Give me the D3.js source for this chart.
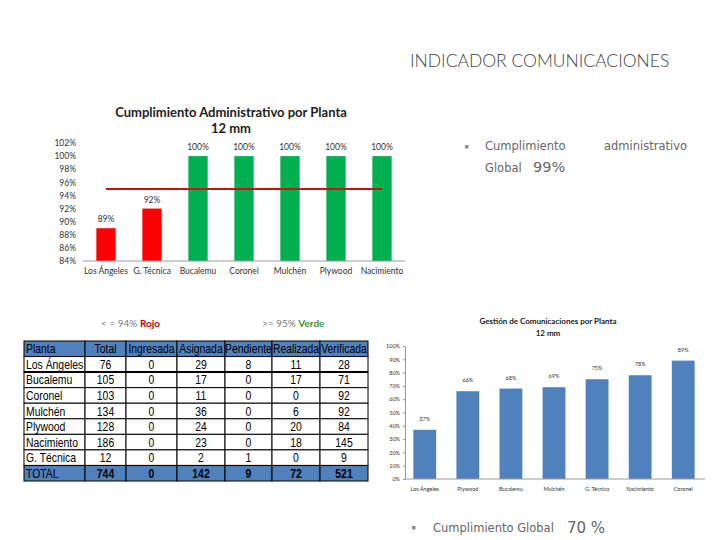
<!DOCTYPE html>
<html>
<head>
<meta charset="utf-8">
<script src="https://cdn.jsdelivr.net/npm/d3@7"></script>
<style>
  body { margin: 0; background: #fff; }
  svg { display: block; }
</style>
</head>
<body>
<div class="canva"></div>
<script>
// --- datos ---
const admPlantas = ["Los Ángeles", "G. Técnica", "Bucalemu", "Coronel", "Mulchén", "Plywood", "Nacimiento"];
const admValores = [89, 92, 100, 100, 100, 100, 100];
const admMeta = 95;
const admTicks = [84, 86, 88, 90, 92, 94, 96, 98, 100, 102];

const comPlantas = ["Los Ángeles", "Plywood", "Bucalemu", "Mulchén", "G. Técnica", "Nacimiento", "Coronel"];
const comValores = [37, 66, 68, 69, 75, 78, 89];
const comTicks = [0, 10, 20, 30, 40, 50, 60, 70, 80, 90, 100];

const tablaColumnas = ["Planta", "Total", "Ingresada", "Asignada", "Pendiente", "Realizada", "Verificada"];
const tablaPlantas = ["Los Ángeles", "Bucalemu", "Coronel", "Mulchén", "Plywood", "Nacimiento", "G. Técnica"];
const total = [76, 105, 103, 134, 128, 186, 12];
const ingresada = [0, 0, 0, 0, 0, 0, 0];
const asignada = [29, 17, 11, 36, 24, 23, 2];
const pendiente = [8, 0, 0, 0, 0, 0, 1];
const realizada = [11, 17, 0, 6, 20, 18, 0];
const verificada = [28, 71, 92, 92, 84, 145, 9];
const totales = ["TOTAL", 744, 0, 142, 9, 72, 521];

const cumplimientoAdm = "99%";
const cumplimientoGlobal = "70 %";

const W = 720, H = 540;
const svg = d3.select(".canva").append("svg")
  .attr("width", W).attr("height", H);

const font = "Lato, 'Open Sans', sans-serif";

// --- encabezado ---
svg.append("text")
  .attr("x", 410).attr("y", 67)
  .attr("font-family", "Lato, sans-serif")
  .attr("font-size", 17.5).attr("font-weight", 300)
  .attr("fill", "#444")
  .text("INDICADOR  COMUNICACIONES");

function bullet(x, y) {
  svg.append("rect").attr("x", x).attr("y", y - 5).attr("width", 3.5).attr("height", 3.5).attr("fill", "#8c8c8c");
}
bullet(465, 150);
const t1 = svg.append("text").attr("font-family", "'DejaVu Sans', sans-serif").attr("fill", "#666").attr("font-size", 11.5);
t1.append("tspan").attr("x", 485).attr("y", 150).text("Cumplimiento");
t1.append("tspan").attr("x", 604).attr("y", 150).text("administrativo");
t1.append("tspan").attr("x", 485).attr("y", 172).text("Global");
t1.append("tspan").attr("x", 533).attr("y", 172).attr("font-size", 14.5).text(cumplimientoAdm);

bullet(412, 531);
const t2 = svg.append("text").attr("font-family", "'DejaVu Sans', sans-serif").attr("fill", "#666").attr("font-size", 11.5);
t2.append("tspan").attr("x", 433).attr("y", 532).text("Cumplimiento Global");
t2.append("tspan").attr("x", 567).attr("y", 533).attr("font-size", 15).text(cumplimientoGlobal);

// --- grafico cumplimiento administrativo ---
const x1 = d3.scaleBand().domain(admPlantas).range([83, 405]).paddingInner(0.58).paddingOuter(0.29);
const y1 = d3.scaleLinear().domain([84, 102]).range([261, 143]);

const g1 = svg.append("g");
g1.append("text").attr("x", 231).attr("y", 117).attr("text-anchor", "middle")
  .attr("font-family", font).attr("font-weight", "bold").attr("font-size", 13).attr("fill", "#222")
  .text("Cumplimiento Administrativo por Planta");
g1.append("text").attr("x", 231).attr("y", 133).attr("text-anchor", "middle")
  .attr("font-family", font).attr("font-weight", "bold").attr("font-size", 13).attr("fill", "#222")
  .text("12 mm");

const yAxis1 = g1.append("g").attr("transform", "translate(79,0)")
  .call(d3.axisLeft(y1).tickValues(admTicks).tickSize(0).tickFormat(d => d + "%"));
yAxis1.select(".domain").remove();
yAxis1.selectAll("text").attr("font-family", font).attr("font-size", 8.5).attr("fill", "#333");

g1.selectAll("rect.bar").data(admValores).enter().append("rect")
  .attr("class", "bar")
  .attr("x", (d, i) => x1(admPlantas[i]))
  .attr("y", d => y1(d))
  .attr("width", x1.bandwidth())
  .attr("height", d => 261 - y1(d))
  .attr("fill", d => d >= admMeta ? "#00b050" : "#ff0000");

g1.selectAll("text.lbl").data(admValores).enter().append("text")
  .attr("class", "lbl")
  .attr("x", (d, i) => x1(admPlantas[i]) + x1.bandwidth() / 2)
  .attr("y", d => y1(d) - 6)
  .attr("text-anchor", "middle")
  .attr("font-family", font).attr("font-size", 8.5).attr("fill", "#333")
  .text(d => d + "%");

const xAxis1 = g1.append("g").attr("transform", "translate(0,261)")
  .call(d3.axisBottom(x1).tickSize(0).tickPadding(7));
xAxis1.select(".domain").attr("stroke", "#999").attr("d", "M83,0H405");
xAxis1.selectAll("text").attr("font-family", font).attr("font-size", 8.5).attr("fill", "#333");

g1.append("line")
  .attr("x1", x1(admPlantas[0]) + x1.bandwidth() / 2)
  .attr("x2", x1(admPlantas[admPlantas.length - 1]) + x1.bandwidth() / 2)
  .attr("y1", y1(admMeta)).attr("y2", y1(admMeta))
  .attr("stroke", "#d01010").attr("stroke-width", 2);

// --- leyenda ---
const l1 = svg.append("text").attr("x", 101).attr("y", 327).attr("font-family", font).attr("font-size", 10).attr("fill", "#777");
l1.append("tspan").text("< = 94% ");
l1.append("tspan").attr("fill", "#c00000").attr("font-weight", "bold").text("Rojo");
const l2 = svg.append("text").attr("x", 262).attr("y", 327).attr("font-family", font).attr("font-size", 10).attr("fill", "#777");
l2.append("tspan").text(">= 95% ");
l2.append("tspan").attr("fill", "#3a9a2a").attr("font-weight", "bold").text("Verde");

// --- tabla ---
const colX = [24, 85, 126, 177, 225, 272, 320, 368];
const filaY = d3.scaleBand().domain(d3.range(9)).range([341, 481]);
const filas = [tablaColumnas].concat(
  tablaPlantas.map((p, i) => [p, total[i], ingresada[i], asignada[i], pendiente[i], realizada[i], verificada[i]]),
  [totales]
);
const tfont = "'Liberation Sans', Arial, sans-serif";
const tg = svg.append("g");
filas.forEach((fila, r) => {
  const y = filaY(r), h = filaY.bandwidth();
  const azul = r === 0 || r === filas.length - 1;
  fila.forEach((v, c) => {
    tg.append("rect")
      .attr("x", colX[c]).attr("y", y)
      .attr("width", colX[c + 1] - colX[c]).attr("height", h)
      .attr("fill", azul ? "#4f81bd" : "#fff")
      .attr("stroke", "#000").attr("stroke-width", 1);
  });
});
filas.forEach((fila, r) => {
  const y = filaY(r), h = filaY.bandwidth();
  fila.forEach((v, c) => {
    const izq = c === 0;
    const tx = izq ? colX[c] + 2 : (colX[c] + colX[c + 1]) / 2;
    tg.append("text")
      .attr("transform", `translate(${tx},${y + h / 2 + 4.5}) scale(0.8,1)`)
      .attr("text-anchor", izq ? "start" : "middle")
      .attr("font-family", tfont)
      .attr("font-size", 13)
      .attr("font-weight", r === filas.length - 1 && c > 0 ? "bold" : "normal")
      .attr("fill", "#000")
      .text(v);
  });
});
tg.append("line").attr("x1", 24).attr("x2", 368).attr("y1", filaY(2)).attr("y2", filaY(2)).attr("stroke", "#000").attr("stroke-width", 2);

// --- grafico gestion de comunicaciones ---
const x2 = d3.scaleBand().domain(comPlantas).range([403, 705]).paddingInner(0.47).paddingOuter(0.24);
const y2 = d3.scaleLinear().domain([0, 100]).range([479, 346]);
const g2 = svg.append("g");

g2.append("text").attr("x", 548).attr("y", 324).attr("text-anchor", "middle")
  .attr("font-family", font).attr("font-weight", "bold").attr("font-size", 8).attr("fill", "#222")
  .text("Gestión de Comunicaciones por Planta");
g2.append("text").attr("x", 548).attr("y", 336).attr("text-anchor", "middle")
  .attr("font-family", font).attr("font-weight", "bold").attr("font-size", 8).attr("fill", "#222")
  .text("12 mm");

const yAxis2 = g2.append("g").attr("transform", "translate(405,0)")
  .call(d3.axisLeft(y2).tickValues(comTicks).tickSize(2).tickFormat(d => d + "%"));
yAxis2.select(".domain").attr("stroke", "#999");
yAxis2.selectAll("line").attr("stroke", "#999");
yAxis2.selectAll("text").attr("font-family", font).attr("font-size", 5.5).attr("fill", "#333");

g2.selectAll("rect.bar").data(comValores).enter().append("rect")
  .attr("class", "bar")
  .attr("x", (d, i) => x2(comPlantas[i]))
  .attr("y", d => y2(d))
  .attr("width", x2.bandwidth())
  .attr("height", d => 479 - y2(d))
  .attr("fill", "#4f81bd");

g2.selectAll("text.lbl").data(comValores).enter().append("text")
  .attr("class", "lbl")
  .attr("x", (d, i) => x2(comPlantas[i]) + x2.bandwidth() / 2)
  .attr("y", d => y2(d) - 9)
  .attr("text-anchor", "middle")
  .attr("font-family", font).attr("font-size", 5.5).attr("fill", "#333")
  .text(d => d + "%");

const xAxis2 = g2.append("g").attr("transform", "translate(0,479)")
  .call(d3.axisBottom(x2).tickSize(0).tickPadding(8));
xAxis2.select(".domain").attr("stroke", "#999").attr("d", "M405,0H705");
xAxis2.selectAll("text").attr("font-family", font).attr("font-size", 5.5).attr("fill", "#333");
</script>
</body>
</html>
